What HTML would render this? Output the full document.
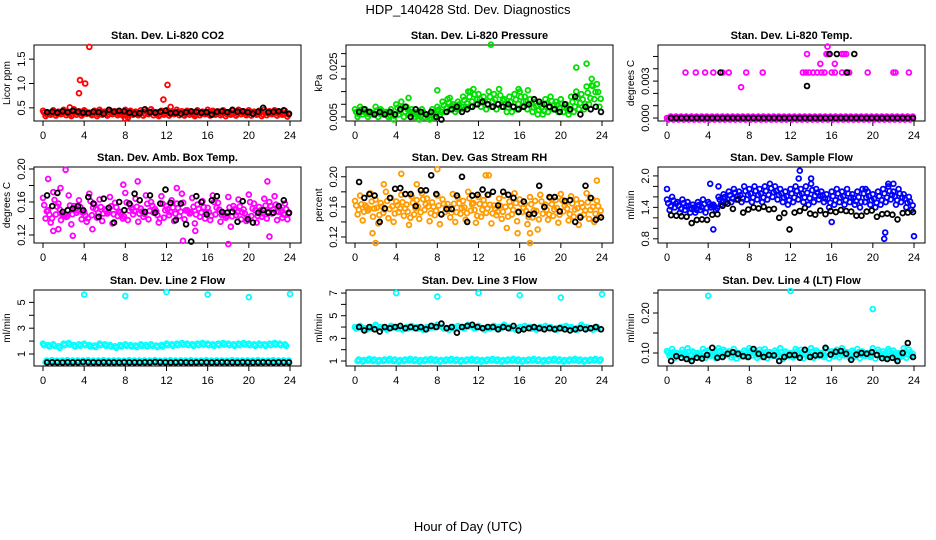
<!DOCTYPE html>
<html><head><meta charset="utf-8">
<style>
html,body{margin:0;padding:0;background:#fff;}
svg{display:block;font-family:"Liberation Sans",sans-serif;}
</style></head>
<body>
<svg id="chart" width="936" height="540" viewBox="0 0 936 540" xmlns="http://www.w3.org/2000/svg">
<text x="468" y="14" font-size="13" text-anchor="middle">HDP_140428  Std. Dev. Diagnostics</text>
<text x="468" y="531" font-size="13" text-anchor="middle">Hour of Day (UTC)</text>
</svg>
<script>
// ---- data ----
const xTicks = [0,4,8,12,16,20,24];
const titles = ["Stan. Dev. Li-820 CO2","Stan. Dev. Li-820 Pressure","Stan. Dev. Li-820 Temp.","Stan. Dev. Amb. Box Temp.","Stan. Dev. Gas Stream RH","Stan. Dev. Sample Flow","Stan. Dev. Line 2 Flow","Stan. Dev. Line 3 Flow","Stan. Dev. Line 4 (LT) Flow"];
const yLabels = ["Licor ppm","kPa","degrees C","degrees C","percent","ml/min","ml/min","ml/min","ml/min"];
const yLims = [[0.23,1.79],[0.0034,0.0334],[-0.00024,0.00593],[0.1103,0.2024],[0.112,0.213],[0.72,2.17],[0.07,5.96],[0.56,7.27],[0.0675,0.2575]];
const yTickVals = [[0.5,1.0,1.5],[0.005,0.01,0.015,0.02,0.025,0.03],[0,0.001,0.002,0.003,0.004,0.005],[0.12,0.14,0.16,0.18,0.20],[0.12,0.14,0.16,0.18,0.20],[0.8,1.0,1.2,1.4,1.6,1.8,2.0],[1,2,3,4,5],[1,2,3,4,5,6,7],[0.10,0.15,0.20,0.25]];
const yTickLabels = [["0.5","1.0","1.5"],["0.005","","","","0.025",""],["0.000","","","0.003","",""],["0.12","","0.16","","0.20"],["0.12","","0.16","","0.20"],["0.8","","","1.4","","","2.0"],["1","","3","","5"],["1","","3","","5","","7"],["0.10","","0.20",""]];
const colors = ["#ff0000","#00e000","#ff00ff","#ff00ff","#ff9a00","#0000ff","#00ffff","#00ffff","#00ffff"];
const cloudPanels = [true,true,false,true,true,true,false,false,true];

// colored series a (x = i*0.5), b (x = i*0.5+0.25)
const seriesA0 = [0.44,0.40,0.45,0.42,0.46,0.41,0.47,0.43,0.45,0.40,0.44,0.46,0.42,0.45,0.43,0.41,0.46,0.44,0.42,0.45,0.43,0.47,0.41,0.44,0.45,0.42,0.46,0.43,0.44,0.41,0.45,0.42,0.46,0.44,0.43,0.45,0.41,0.44,0.46,0.43,0.45,0.42,0.44,0.46,0.43,0.45,0.41,0.44];
const seriesB0 = [0.33,0.36,0.34,0.37,0.35,0.33,0.36,0.34,0.38,0.35,0.33,0.36,0.34,0.37,0.35,0.34,0.30,0.36,0.35,0.34,0.37,0.35,0.33,0.36,0.34,0.37,0.35,0.34,0.36,0.33,0.35,0.37,0.34,0.36,0.35,0.33,0.36,0.34,0.37,0.35,0.34,0.36,0.33,0.35,0.37,0.34,0.36,0.32];
const seriesA1 = [0.008,0.009,0.008,0.007,0.009,0.008,0.007,0.008,0.010,0.011,0.009,0.008,0.007,0.008,0.006,0.008,0.009,0.011,0.012,0.010,0.011,0.013,0.015,0.016,0.014,0.013,0.015,0.014,0.016,0.012,0.013,0.014,0.015,0.013,0.012,0.011,0.010,0.012,0.013,0.011,0.012,0.010,0.013,0.015,0.014,0.017,0.020,0.018];
const seriesB1 = [0.005,0.006,0.005,0.006,0.005,0.006,0.005,0.004,0.006,0.005,0.006,0.005,0.004,0.005,0.004,0.005,0.006,0.007,0.008,0.007,0.008,0.009,0.009,0.010,0.009,0.008,0.009,0.008,0.009,0.007,0.007,0.008,0.009,0.008,0.007,0.006,0.006,0.007,0.008,0.007,0.007,0.006,0.007,0.008,0.008,0.010,0.012,0.009];
const seriesA2 = [0,0,0,0,0,0,0,0,0,0,0,0,0,0,0,0,0,0,0,0,0,0,0,0,0,0,0,0,0,0,0,0,0,0,0,0,0,0,0,0,0,0,0,0,0,0,0,0];
const seriesB2 = [0,0,0,0,0,0,0,0,0,0,0,0,0,0,0,0,0,0,0,0,0,0,0,0,0,0,0,0,0,0,0,0,0,0,0,0,0,0,0,0,0,0,0,0,0,0,0,0];
const seriesA3 = [0.165,0.150,0.172,0.158,0.145,0.168,0.155,0.162,0.148,0.170,0.157,0.163,0.151,0.166,0.159,0.147,0.171,0.156,0.164,0.152,0.168,0.160,0.149,0.167,0.155,0.162,0.158,0.170,0.150,0.165,0.157,0.161,0.153,0.168,0.159,0.146,0.166,0.155,0.163,0.151,0.169,0.158,0.154,0.164,0.160,0.167,0.152,0.158];
const seriesB3 = [0.140,0.135,0.145,0.138,0.142,0.133,0.147,0.139,0.136,0.144,0.141,0.137,0.146,0.134,0.143,0.140,0.138,0.145,0.136,0.142,0.139,0.147,0.135,0.141,0.144,0.137,0.143,0.139,0.146,0.134,0.142,0.140,0.138,0.145,0.136,0.141,0.130,0.144,0.139,0.137,0.143,0.135,0.142,0.140,0.146,0.138,0.141,0.139];
const seriesA4 = [0.168,0.175,0.162,0.178,0.170,0.165,0.180,0.172,0.167,0.176,0.163,0.174,0.169,0.178,0.171,0.166,0.175,0.170,0.164,0.177,0.172,0.168,0.180,0.165,0.173,0.169,0.176,0.162,0.171,0.175,0.167,0.178,0.170,0.164,0.173,0.168,0.176,0.163,0.172,0.169,0.177,0.166,0.174,0.170,0.165,0.178,0.171,0.168];
const seriesB4 = [0.150,0.142,0.155,0.147,0.138,0.152,0.145,0.140,0.153,0.148,0.136,0.150,0.144,0.156,0.141,0.149,0.137,0.153,0.146,0.140,0.151,0.143,0.155,0.139,0.147,0.152,0.138,0.149,0.144,0.132,0.150,0.141,0.153,0.137,0.146,0.130,0.151,0.143,0.148,0.139,0.154,0.142,0.147,0.136,0.150,0.144,0.140,0.148];
const seriesA5 = [1.55,1.6,1.5,1.55,1.5,1.45,1.5,1.55,1.5,1.45,1.6,1.65,1.7,1.75,1.7,1.8,1.75,1.8,1.75,1.8,1.85,1.8,1.75,1.7,1.75,1.8,1.75,1.8,1.85,1.75,1.7,1.65,1.7,1.75,1.7,1.75,1.65,1.7,1.75,1.7,1.65,1.7,1.75,1.8,1.7,1.75,1.65,1.6];
const seriesB5 = [1.35,1.4,1.3,1.35,1.3,1.3,1.35,1.3,1.4,1.35,1.45,1.5,1.5,1.55,1.5,1.55,1.5,1.55,1.5,1.55,1.6,1.55,1.5,1.45,1.5,1.55,1.5,1.45,1.5,1.55,1.5,1.4,1.45,1.5,1.45,1.5,1.45,1.4,1.5,1.45,1.4,1.45,1.5,1.55,1.45,1.5,1.4,1.35];
const seriesA6 = [1.8,1.7,1.75,1.6,1.8,1.85,1.7,1.75,1.8,1.7,1.65,1.8,1.75,1.7,1.6,1.7,1.75,1.7,1.65,1.75,1.7,1.75,1.65,1.7,1.8,1.75,1.8,1.85,1.8,1.75,1.8,1.85,1.8,1.75,1.8,1.85,1.8,1.75,1.8,1.85,1.8,1.75,1.8,1.75,1.8,1.85,1.8,1.75];
const seriesB6 = [0.38,0.4,0.36,0.38,0.4,0.37,0.39,0.38,0.4,0.36,0.38,0.4,0.37,0.39,0.38,0.36,0.4,0.38,0.37,0.39,0.38,0.4,0.36,0.38,0.4,0.37,0.39,0.38,0.4,0.36,0.38,0.4,0.37,0.39,0.38,0.36,0.4,0.38,0.37,0.39,0.38,0.4,0.36,0.38,0.4,0.37,0.39,0.38];
const seriesA7 = [4.0,4.1,3.9,4.0,4.2,4.0,3.9,4.1,4.0,3.9,4.0,4.1,4.0,3.9,4.0,4.1,4.2,4.0,3.9,4.0,4.1,4.0,4.2,4.0,4.1,3.9,4.0,4.1,4.0,4.2,4.0,3.9,4.0,4.1,4.0,3.9,4.0,4.1,4.0,3.9,4.0,4.1,4.0,3.9,4.2,4.0,3.9,4.0];
const seriesB7 = [1.0,0.95,1.05,1.0,0.95,1.0,1.05,1.0,0.95,1.0,1.05,1.0,0.95,1.0,1.05,1.0,0.95,1.0,1.05,1.0,0.95,1.0,1.05,1.0,0.95,1.0,1.05,1.0,0.95,1.0,1.05,1.0,0.95,1.0,1.05,1.0,0.95,1.0,1.05,1.0,0.95,1.0,1.05,1.0,0.95,1.0,1.05,1.0];
const seriesA8 = [0.105,0.11,0.1,0.108,0.112,0.104,0.1,0.11,0.106,0.102,0.112,0.108,0.104,0.11,0.1,0.106,0.112,0.104,0.108,0.11,0.102,0.106,0.112,0.104,0.1,0.11,0.108,0.104,0.112,0.106,0.1,0.11,0.104,0.108,0.112,0.102,0.106,0.11,0.104,0.1,0.112,0.108,0.104,0.11,0.106,0.1,0.112,0.108];
const seriesB8 = [0.092,0.088,0.095,0.09,0.086,0.094,0.09,0.088,0.093,0.087,0.091,0.095,0.089,0.086,0.092,0.09,0.094,0.088,0.091,0.087,0.093,0.09,0.085,0.092,0.089,0.094,0.087,0.091,0.088,0.093,0.09,0.086,0.092,0.089,0.094,0.088,0.091,0.087,0.093,0.09,0.086,0.092,0.089,0.094,0.085,0.091,0.088,0.093];
// colored outliers
const outX = [[3.5,3.6,4.1,4.5,11.7,12.1,8.0,2.6,12.4],[13.2,21.5,22.5,8.0,23.0,11.2,15.9,9.2,5.2,16.8],[1.8,2.8,3.7,4.5,5.4,6.0,7.7,9.3,13.2,13.5,13.8,14.2,14.6,15.0,15.3,16.0,16.3,17.0,17.4,17.7,19.5,22.0,22.2,23.5,13.6,15.5,15.7,17.0,17.2,17.4,14.9,16.3,15.6,7.2],[0.5,2.2,1.0,1.5,2.9,13.6,18.0,22.0,21.8,9.2,7.8,14.8,4.8,1.7,13.0],[4.5,8.0,12.7,13.0,2.0,17.0,17.0,15.8,23.5,1.7,2.8,6.0],[12.9,12.8,14.0,4.5,16.0,21.2,21.1,24.0,4.2,0.0,22.0,21.5,19.3,5.0],[4,8,12,16,20,24],[4,8,12,16,20,24],[4,12,20]];
const outY = [[0.8,1.07,1.0,1.75,0.67,0.97,0.28,0.51,0.52],[0.0335,0.0245,0.026,0.0155,0.0175,0.015,0.016,0.0125,0.0125,0.0155],[0.0037,0.0037,0.0037,0.0037,0.0037,0.0037,0.0037,0.0037,0.0037,0.0037,0.0037,0.0037,0.0037,0.0037,0.0037,0.0037,0.0037,0.0037,0.0037,0.0037,0.0037,0.0037,0.0037,0.0037,0.0052,0.0052,0.0052,0.0052,0.0052,0.0052,0.0044,0.0044,0.0058,0.0025],[0.188,0.199,0.125,0.127,0.119,0.113,0.109,0.118,0.185,0.185,0.181,0.125,0.127,0.177,0.177],[0.204,0.21,0.202,0.202,0.112,0.112,0.125,0.125,0.195,0.125,0.19,0.19],[2.1,1.95,1.95,0.98,1.12,0.92,0.8,0.85,1.85,1.75,1.85,1.85,1.75,1.8],[5.6,5.5,5.8,5.6,5.4,5.65],[7.0,6.7,7.0,6.8,6.6,6.9],[0.243,0.255,0.21]];
// black series (x = i*0.5+0.4)
const black0 = [0.41,0.42,0.40,0.43,0.41,0.44,0.42,0.40,0.39,0.42,0.41,0.38,0.46,0.42,0.44,0.43,0.40,0.38,0.39,0.47,0.41,0.40,0.42,0.44,0.39,0.40,0.38,0.41,0.43,0.42,0.40,0.41,0.36,0.42,0.43,0.41,0.46,0.42,0.43,0.41,0.38,0.42,0.50,0.41,0.42,0.43,0.45,0.38];
const black1 = [0.007,0.008,0.007,0.006,0.007,0.006,0.007,0.006,0.008,0.009,0.005,0.008,0.007,0.006,0.007,0.005,0.004,0.007,0.008,0.009,0.007,0.008,0.009,0.010,0.011,0.010,0.009,0.010,0.009,0.010,0.009,0.008,0.009,0.010,0.012,0.011,0.010,0.009,0.008,0.007,0.010,0.008,0.013,0.006,0.009,0.008,0.009,0.007];
const black2 = [0,0,0,0,0,0,0,0,0,0,0,0,0,0,0,0,0,0,0,0,0,0,0,0,0,0,0,0,0,0,0,0,0,0,0,0,0,0,0,0,0,0,0,0,0,0,0,0];
const black3 = [0.168,0.155,0.171,0.148,0.150,0.152,0.155,0.150,0.166,0.158,0.142,0.164,0.153,0.135,0.160,0.150,0.158,0.170,0.162,0.148,0.168,0.147,0.158,0.175,0.159,0.138,0.158,0.133,0.112,0.167,0.160,0.145,0.162,0.167,0.148,0.147,0.148,0.136,0.161,0.139,0.135,0.147,0.150,0.147,0.147,0.155,0.162,0.147];
const black4 = [0.193,0.172,0.177,0.175,0.140,0.158,0.172,0.184,0.185,0.177,0.177,0.161,0.182,0.182,0.202,0.177,0.150,0.157,0.157,0.175,0.200,0.140,0.175,0.176,0.183,0.176,0.180,0.162,0.180,0.176,0.172,0.153,0.167,0.150,0.151,0.188,0.160,0.173,0.173,0.154,0.168,0.169,0.140,0.146,0.188,0.172,0.143,0.146];
const black5 = [1.25,1.24,1.23,1.22,1.1,1.16,1.17,1.16,1.26,1.27,1.43,1.47,1.37,1.55,1.3,1.36,1.4,1.38,1.41,1.36,1.37,1.2,1.29,0.98,1.3,1.33,1.39,1.28,1.26,1.34,1.27,1.33,1.31,1.35,1.33,1.32,1.24,1.24,1.32,1.34,1.22,1.27,1.28,1.26,1.17,1.29,1.3,1.31];
const black6 = [0.35,0.36,0.35,0.34,0.36,0.35,0.35,0.38,0.36,0.35,0.34,0.36,0.35,0.35,0.34,0.36,0.35,0.35,0.34,0.36,0.35,0.38,0.36,0.35,0.34,0.35,0.36,0.35,0.34,0.35,0.36,0.35,0.34,0.35,0.36,0.35,0.35,0.34,0.36,0.35,0.34,0.35,0.36,0.35,0.34,0.36,0.35,0.35];
const black7 = [4.0,3.7,4.0,3.8,3.6,4.0,3.9,4.0,4.1,3.9,4.0,3.9,4.0,3.8,4.1,4.0,4.3,3.9,4.0,3.5,4.0,4.1,4.2,4.0,3.9,4.0,4.0,3.8,4.0,3.9,4.1,3.7,3.8,3.9,4.0,3.9,3.8,3.9,3.8,3.9,3.8,3.7,3.8,3.9,3.8,3.9,4.0,3.8];
const black8 = [0.08,0.092,0.088,0.085,0.08,0.088,0.086,0.095,0.113,0.088,0.09,0.098,0.102,0.098,0.092,0.09,0.11,0.098,0.09,0.095,0.094,0.08,0.09,0.095,0.095,0.088,0.108,0.09,0.094,0.095,0.113,0.096,0.103,0.105,0.098,0.083,0.096,0.1,0.098,0.102,0.095,0.087,0.085,0.088,0.08,0.1,0.125,0.09];
const blackX2 = [5.2,13.6,15.8,16.5,18.2,17.5];
const blackY2 = [0.0037,0.0026,0.0052,0.0052,0.0052,0.0037];

const seriesA = [seriesA0,seriesA1,seriesA2,seriesA3,seriesA4,seriesA5,seriesA6,seriesA7,seriesA8];
const seriesB = [seriesB0,seriesB1,seriesB2,seriesB3,seriesB4,seriesB5,seriesB6,seriesB7,seriesB8];
const blacks = [black0,black1,black2,black3,black4,black5,black6,black7,black8];

// ---- drawing ----
const NS = "http://www.w3.org/2000/svg";
const svg = document.getElementById("chart");
const colLeft = [34,346,658], rowTop = [45,167,290], boxW = 267, boxH = 76;
function mk(tag, attrs, parent){ const e=document.createElementNS(NS,tag); for(const k in attrs) e.setAttribute(k,attrs[k]); (parent||svg).appendChild(e); return e; }

for(let p=0;p<9;p++){
  const L = colLeft[p%3], T = rowTop[Math.floor(p/3)];
  const g = mk("g",{});
  
  
  const xs = h => L + 9 + h*(247/24);
  const [y0,y1] = yLims[p];
  const ys = v => T + boxH - (v - y0)/(y1 - y0)*boxH;
  const t = mk("text",{x:L+boxW/2,y:T-6,"font-size":"11","font-weight":"bold","text-anchor":"middle"},g);
  t.textContent = titles[p];
  
  
  const box = mk("rect",{x:L,y:T,width:boxW,height:boxH,fill:"none",stroke:"#000","stroke-width":"1"},g);
  
  
  const xa = mk("g",{},g);
  
  
  xTicks.forEach(v=>{
    const x = xs(v);
    mk("line",{x1:x,x2:x,y1:T+boxH,y2:T+boxH+5,stroke:"#000"},xa);
    const tl = mk("text",{x:x,y:T+boxH+18,"font-size":"11","text-anchor":"middle"},xa);
    tl.textContent = v;
    
    
  });
  const ya = mk("g",{},g);
  
  
  yTickVals[p].forEach((v,i)=>{
    const y = ys(v);
    mk("line",{x1:L-5,x2:L,y1:y,y2:y,stroke:"#000"},ya);
    const s = yTickLabels[p][i];
    if(s){
      const tl = mk("text",{x:L-9,y:y,"font-size":"11","text-anchor":"middle",transform:`rotate(-90 ${L-9} ${y})`},ya);
      tl.textContent = s;
      
      
    }
  });
  const yl = mk("text",{x:L-24,y:T+boxH/2,"font-size":"10","text-anchor":"middle",transform:`rotate(-90 ${L-24} ${T+boxH/2})`},g);
  yl.textContent = yLabels[p];
  
  
  const col = colors[p];
  const pts = mk("g",{fill:"none",stroke:col,"stroke-width":"1.8"},g);
  
  
  const dot = (par,h,v)=>{ const c=mk("circle",{cx:xs(h).toFixed(1),cy:ys(v).toFixed(1),r:"2.4"},par);   };
  const cloud = cloudPanels[p];
  const jit = (y1-y0)*0.02;
  seriesA[p].forEach((v,i)=>{ dot(pts,i*0.5,v); dot(pts,i*0.5+0.12, cloud ? v-(seriesA[p][i]-seriesB[p][i])*0.35 : v-jit); });
  seriesB[p].forEach((v,i)=>{ dot(pts,i*0.5+0.25,v); dot(pts,i*0.5+0.37, cloud ? v+(seriesA[p][i]-seriesB[p][i])*0.35 : v+jit); });
  outX[p].forEach((h,i)=> dot(pts,h,outY[p][i]));
  const bk = mk("g",{fill:"none",stroke:"#000","stroke-width":"1.8"},g);
  
  
  blacks[p].forEach((v,i)=> dot(bk,i*0.5+0.4,v));
  if(p===2) blackX2.forEach((h,i)=> dot(bk,h,blackY2[i]));
}
</script>
</body></html>
